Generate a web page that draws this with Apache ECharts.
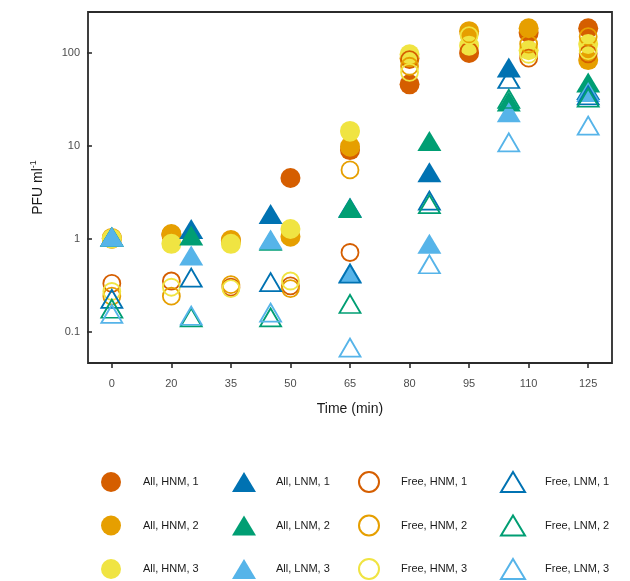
<!DOCTYPE html>
<html>
<head>
<meta charset="utf-8">
<script src="https://cdn.jsdelivr.net/npm/echarts@6/dist/echarts.min.js"></script>
<style>
  html, body { margin: 0; padding: 0; background: #ffffff; }
  #chart { width: 630px; height: 581px; }
</style>
</head>
<body>
<div id="chart"></div>
<script>
// Sampling times (min)
const timesHNM = [0, 20, 35, 50, 65, 80, 95, 110, 125];
const timesLNM = [0, 25, 45, 65, 85, 105, 125];
const xTicks = [0, 20, 35, 50, 65, 80, 95, 110, 125];
const yTicks = [0.1, 1, 10, 100];

// PFU per ml, all phage (filled) and free phage (open), HNM / LNM replicates
const allHNM1 = [1.0, 1.1, 0.95, 4.5, 9.0, 46, 100, 165, 185];
const allHNM2 = [1.02, 1.12, 0.97, 1.05, 9.8, 88, 172, 185, 84];
const allHNM3 = [1.0, 0.88, 0.88, 1.27, 14.5, 97, 120, 107, 125];
const allLNM1 = [1.05, 1.27, 1.85, 2.17, 5.2, 70, 40];
const allLNM2 = [1.05, 1.08, 0.95, 2.14, 11.3, 30, 48];
const allLNM3 = [1.05, 0.66, 0.98, 0.43, 0.88, 23, 38];
const freeHNM1 = [0.33, 0.35, 0.30, 0.31, 0.71, 85, 105, 88, 98];
const freeHNM2 = [0.24, 0.24, 0.32, 0.29, 5.5, 72, 160, 125, 150];
const freeHNM3 = [0.27, 0.30, 0.29, 0.35, 14, 62, 154, 97, 106];
const freeLNM1 = [0.225, 0.38, 0.34, 0.42, 2.57, 52.5, 35];
const freeLNM2 = [0.176, 0.142, 0.142, 0.198, 2.36, 32, 33];
const freeLNM3 = [0.155, 0.148, 0.16, 0.067, 0.53, 10.9, 16.5];

const C = {
  r1: '#D55E00', r2: '#E69F00', r3: '#F0E442',
  b1: '#0072B2', b2: '#009E73', b3: '#56B4E9'
};

// The time axis is broken between 0 and 20: the first step is drawn
// with the same spacing as the 15-minute steps after it.
const xPos = t => (t === 0 ? 5 : t);

const FONT = '"Liberation Sans", Arial, Helvetica, sans-serif';

function makeSeries(name, times, values, color, shape, hollow) {
  const tri = shape === 'triangle';
  return {
    name: name,
    type: 'scatter',
    symbol: shape,
    symbolSize: tri ? (hollow ? [21, 18] : [24, 20]) : (hollow ? 17 : 20),
    itemStyle: hollow
      ? { color: 'rgba(0,0,0,0)', borderColor: color, borderWidth: 1.8, opacity: 1 }
      : { color: color, borderWidth: 0, opacity: 1 },
    emphasis: { disabled: true },
    data: times.map((t, i) => [xPos(t), values[i]]).filter(d => d[1] != null),
    z: hollow ? 3 : 2
  };
}

const series = [
  makeSeries('All, HNM, 1', timesHNM, allHNM1, C.r1, 'circle', false),
  makeSeries('All, HNM, 2', timesHNM, allHNM2, C.r2, 'circle', false),
  makeSeries('All, HNM, 3', timesHNM, allHNM3, C.r3, 'circle', false),
  makeSeries('All, LNM, 1', timesLNM, allLNM1, C.b1, 'triangle', false),
  makeSeries('All, LNM, 2', timesLNM, allLNM2, C.b2, 'triangle', false),
  makeSeries('All, LNM, 3', timesLNM, allLNM3, C.b3, 'triangle', false),
  makeSeries('Free, HNM, 1', timesHNM, freeHNM1, C.r1, 'circle', true),
  makeSeries('Free, HNM, 2', timesHNM, freeHNM2, C.r2, 'circle', true),
  makeSeries('Free, HNM, 3', timesHNM, freeHNM3, C.r3, 'circle', true),
  makeSeries('Free, LNM, 1', timesLNM, freeLNM1, C.b1, 'triangle', true),
  makeSeries('Free, LNM, 2', timesLNM, freeLNM2, C.b2, 'triangle', true),
  makeSeries('Free, LNM, 3', timesLNM, freeLNM3, C.b3, 'triangle', true)
];

// One legend column per marker kind; iconCenter is the x of the key symbols.
// Outlined keys are measured with their stroke, so their rows use a smaller gap.
function legendColumn(iconCenter, names, outlined) {
  return {
    orient: 'vertical',
    left: iconCenter - 12,
    top: outlined ? 471 : 472,
    width: 110,
    height: 140,
    padding: 0,
    itemWidth: 24,
    itemHeight: 20,
    itemGap: outlined ? 21.5 : 23.5,
    selectedMode: false,
    textStyle: { fontFamily: FONT, fontSize: 11, color: '#1a1a1a', padding: [0, 0, 0, 15] },
    data: names
  };
}

const chart = echarts.init(document.getElementById('chart'), null, { renderer: 'canvas' });
chart.setOption({
  animation: false,
  backgroundColor: '#ffffff',
  textStyle: { fontFamily: FONT },
  grid: {
    left: 88, right: 18, top: 12, bottom: 218,
    show: true, borderColor: '#2b2b2b', borderWidth: 1.8, backgroundColor: 'transparent'
  },
  xAxis: {
    type: 'value',
    min: -1,
    max: 131,
    name: 'Time (min)',
    nameLocation: 'middle',
    nameGap: 39,
    nameTextStyle: { fontFamily: FONT, fontSize: 14, color: '#1a1a1a' },
    axisLine: { show: false },
    splitLine: { show: false },
    axisTick: {
      show: true, length: 5, customValues: xTicks.map(xPos),
      lineStyle: { color: '#2b2b2b', width: 1.6 }
    },
    axisLabel: {
      customValues: xTicks.map(xPos),
      margin: 15,
      fontFamily: FONT, fontSize: 11, color: '#4d4d4d',
      formatter: v => String(v === 5 ? 0 : v)
    }
  },
  yAxis: {
    type: 'log',
    logBase: 10,
    min: 0.0458,
    max: 276.7,
    name: 'PFU ml{sup|-1}',
    nameLocation: 'middle',
    nameRotate: 90,
    nameGap: 41,
    nameTextStyle: {
      fontFamily: FONT, fontSize: 14, color: '#1a1a1a', lineHeight: 18,
      verticalAlign: 'bottom',
      rich: { sup: { fontFamily: FONT, fontSize: 9, color: '#1a1a1a', verticalAlign: 'top', lineHeight: 18 } }
    },
    axisLine: { show: false },
    splitLine: { show: false },
    axisTick: {
      show: true, length: 5, customValues: yTicks,
      lineStyle: { color: '#2b2b2b', width: 1.6 }
    },
    axisLabel: {
      customValues: yTicks,
      margin: 8,
      fontFamily: FONT, fontSize: 11, color: '#4d4d4d',
      formatter: v => String(v)
    }
  },
  legend: [
    legendColumn(113, ['All, HNM, 1', 'All, HNM, 2', 'All, HNM, 3'], false),
    legendColumn(244, ['All, LNM, 1', 'All, LNM, 2', 'All, LNM, 3'], false),
    legendColumn(370, ['Free, HNM, 1', 'Free, HNM, 2', 'Free, HNM, 3'], true),
    legendColumn(512, ['Free, LNM, 1', 'Free, LNM, 2', 'Free, LNM, 3'], true)
  ],
  series: series
});
</script>
</body>
</html>
